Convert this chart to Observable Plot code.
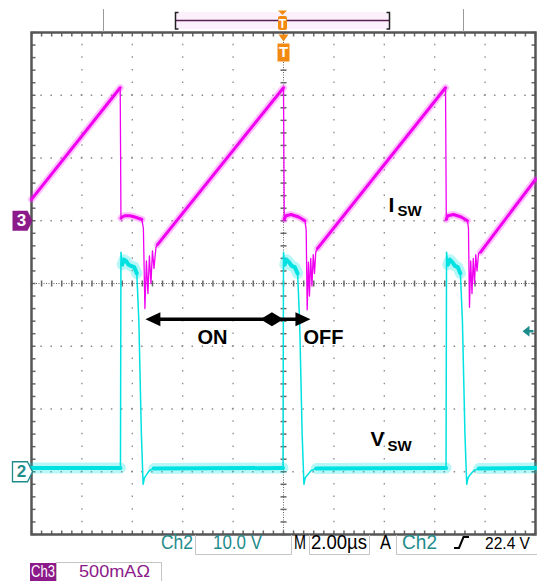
<!DOCTYPE html>
<html><head><meta charset="utf-8">
<script src="https://cdn.jsdelivr.net/npm/d3@7"></script>
<script src="https://cdn.jsdelivr.net/npm/@observablehq/plot@0.6"></script>
<style>
html,body{margin:0;padding:0;background:#fff;}
#wrap{position:relative;width:537px;height:581px;overflow:hidden;}
#wrap svg.overlay{position:absolute;left:0;top:0;pointer-events:none;}
.st{font-family:"Liberation Sans Narrow","Liberation Sans",Arial,sans-serif;font-size:20px;}
</style></head><body>
<div id="wrap"></div>
<script>
// ---------------- data ----------------
// Ch3: switch current I_SW (amps) vs time (µs, trigger at 0)
const ISW_TIME_US = [-10, -6.48, -6.45, -6.40, -6.30, -6.10, -5.90, -5.62, -5.56, -5.50, -5.44, -5.38, -5.32, -5.26, -5.20, -5.14, -5.06, -5.00,
  0.00, 0.03, 0.10, 0.30, 0.60, 0.85, 0.90, 0.94, 0.99, 1.03, 1.08, 1.13, 1.18, 1.23, 1.28, 1.35,
  6.43, 6.46, 6.52, 6.75, 7.05, 7.30, 7.34, 7.38, 7.43, 7.48, 7.53, 7.58, 7.63, 7.68, 7.74, 7.82, 10.00];
const ISW_AMPS = [0.17, 1.06, 0.02, 0.03, 0.04, 0.04, 0.03, 0.01, -0.06, -0.70, -0.32, -0.58, -0.28, -0.50, -0.24, -0.38, -0.21, -0.19,
  1.06, 0.01, 0.04, 0.05, 0.03, 0.00, -0.07, -0.71, -0.33, -0.60, -0.30, -0.52, -0.27, -0.42, -0.25, -0.22,
  1.06, 0.01, 0.04, 0.05, 0.03, 0.00, -0.06, -0.69, -0.32, -0.58, -0.30, -0.50, -0.27, -0.40, -0.26, -0.25, 0.33];
// Ch2: switch-node voltage V_SW (volts) vs time (µs)
const VSW_TIME_US = [-10, -6.47, -6.45, -6.40, -6.33, -6.25, -6.15, -6.05, -5.92, -5.82, -5.74, -5.64, -5.57, -5.52, -5.44, -5.32, -5.15,
  -0.02, 0.00, 0.05, 0.12, 0.22, 0.32, 0.45, 0.56, 0.64, 0.74, 0.81, 0.86, 0.95, 1.10, 1.30,
  6.45, 6.47, 6.52, 6.60, 6.70, 6.80, 6.92, 7.02, 7.10, 7.20, 7.27, 7.32, 7.40, 7.55, 7.75, 10.0];
const VSW_VOLTS = [0.6, 0.6, 35.0, 33.0, 33.8, 33.6, 33.0, 32.8, 32.6, 31.6, 24.0, 6.0, -2.0, -1.0, -0.5, 0.2, 0.5,
  0.6, 35.0, 33.0, 33.8, 33.4, 32.8, 32.6, 31.6, 24.0, 6.0, -2.0, -1.0, -0.5, 0.2, 0.5,
  0.6, 35.0, 33.0, 33.8, 33.4, 32.8, 32.6, 31.6, 24.0, 6.0, -2.0, -1.0, -0.5, 0.2, 0.5, 0.6];
// noisy (thick) stretches of each trace, µs
const ISW_NOISY_SPANS = [[-10, -6.48], [-6.45, -5.62], [-5.00, 0.00], [0.03, 0.85], [1.35, 6.43], [6.46, 7.30], [7.82, 10]];
const VSW_NOISY_SPANS = [[-10, -6.47], [-6.40, -5.82], [-5.15, -0.02], [0.05, 0.56], [1.30, 6.45], [6.52, 7.02], [7.75, 10]];

// scope settings
const TIME_PER_DIV_US = 2;
const CH3_A_PER_DIV = 0.5, CH3_POS_DIV = 1;
const CH2_V_PER_DIV = 10, CH2_POS_DIV = -3;
const TRIGGER_TIME_US = 0, TRIGGER_LEVEL_V = 22.4;
const CH_LABELS = ["3", "2"];

// annotations (data coordinates: µs, divisions)
const ON_START_US = -5.48, OFF_END_US = 1.07, SWITCH_MARK_US = -0.46, ARROW_LEVEL_DIV = -0.57;
const NOTE_TEXT = ["ON", "OFF"];
const NOTE_TIME_US = [-3.41, 0.79];
const NOTE_DIV = -0.87;
const TRACE_NAMES = [{main: "I", sub: "SW", t: 4.17, tSub: 4.52, div: 1.25, divSub: 1.15},
                     {main: "V", sub: "SW", t: 3.45, tSub: 4.13, div: -2.49, divSub: -2.60}];

// ---------------- derived tables ----------------
const ch3 = ISW_TIME_US.map((t, i) => ({t, div: ISW_AMPS[i] / CH3_A_PER_DIV + CH3_POS_DIV}));
const ch2 = VSW_TIME_US.map((t, i) => ({t, div: VSW_VOLTS[i] / CH2_V_PER_DIV + CH2_POS_DIV}));
function inSpans(rows, spans) {
  const out = [];
  spans.forEach((s, k) => rows.forEach(r => { if (r.t >= s[0] - 1e-9 && r.t <= s[1] + 1e-9) out.push({...r, k}); }));
  return out;
}
const ch3Noisy = inSpans(ch3, ISW_NOISY_SPANS);
const ch2Noisy = inSpans(ch2, VSW_NOISY_SPANS);

const half = 5 * TIME_PER_DIV_US;
const xMinor = d3.range(-25, 26).map(i => i * TIME_PER_DIV_US / 5);
const yMinor = d3.range(-20, 21).map(i => i / 5);
const xMajor = d3.range(-4, 5).filter(i => i !== 0).map(i => i * TIME_PER_DIV_US);
const yMajor = [-3, -2, -1, 1, 2, 3];

const seg = (x1, y1, x2, y2) => ({draw(c) { c.moveTo(x1, y1); c.lineTo(x2, y2); }});
const poly = (pts) => ({draw(c) { c.moveTo(pts[0][0], pts[0][1]); for (const p of pts.slice(1)) c.lineTo(p[0], p[1]); c.closePath(); }});
const badge = poly([[-19, -10], [-4, -10], [1, 0], [-4, 10], [-19, 10]]);
const trigIcon = {draw(c) {
  c.moveTo(-5, 2); c.lineTo(5, 2); c.lineTo(0, 9); c.closePath();
  c.moveTo(-6, 11); c.lineTo(6, 11); c.lineTo(6, 29); c.lineTo(-6, 29); c.closePath();
}};
const levelArrow = {draw(c) {
  c.moveTo(-13, 0); c.lineTo(-6, -5.5); c.lineTo(-6, 5.5); c.closePath();
  c.moveTo(-6, -1.2); c.lineTo(-2, -1.2); c.lineTo(-2, 1.2); c.lineTo(-6, 1.2); c.closePath();
}};
const headL = poly([[0, 0], [15, -7], [15, 7]]);
const headR = poly([[0, 0], [-15, -7], [-15, 7]]);
const diamond = poly([[-11.5, 0], [0, -7], [11.5, 0], [0, 7]]);

const MAG = "#f000f0", CYAN = "#00e2e2", TEAL = "#1f8c8c", PURPLE = "#8c1a8a", GRID = "#8a8a8a";
const LBL_FONT = "Liberation Sans, Arial, sans-serif";

const chart = Plot.plot({
  width: 537, height: 581,
  marginLeft: 31, marginRight: 2, marginTop: 32, marginBottom: 47,
  x: {domain: [-half, half], axis: null},
  y: {domain: [-4, 4], axis: null},
  marks: [
    // graticule
    Plot.ruleX(xMajor, {stroke: GRID, strokeWidth: 1.3, strokeDasharray: "1.5,11.05", strokeDashoffset: 0.75}),
    Plot.ruleY(yMajor, {stroke: GRID, strokeWidth: 1.3, strokeDasharray: "1.5,8.58", strokeDashoffset: 0.75}),
    Plot.ruleX([0], {stroke: "#666", strokeDasharray: "1,1.5"}),
    Plot.ruleY([0], {stroke: "#666", strokeDasharray: "1,1.5"}),
    Plot.dot(xMinor, {x: d => d, y: 0, symbol: seg(0, -3, 0, 3), stroke: "#666", fill: "none"}),
    Plot.dot(yMinor, {x: 0, y: d => d, symbol: seg(-3, 0, 3, 0), stroke: "#666", fill: "none"}),
    Plot.dot(xMinor, {x: d => d, y: 4, symbol: seg(0, 0, 0, 4), stroke: "#666", fill: "none"}),
    Plot.dot(xMinor, {x: d => d, y: -4, symbol: seg(0, 0, 0, -4), stroke: "#666", fill: "none"}),
    Plot.dot(yMinor, {x: -half, y: d => d, symbol: seg(0, 0, 4, 0), stroke: "#666", fill: "none"}),
    Plot.dot(yMinor, {x: half, y: d => d, symbol: seg(0, 0, -4, 0), stroke: "#666", fill: "none"}),
    Plot.frame({stroke: "#555", strokeWidth: 2.5}),
    // Ch2 trace (cyan)
    Plot.line(ch2Noisy, {x: "t", y: "div", z: "k", stroke: CYAN, strokeWidth: 11, strokeOpacity: 0.28}),
    Plot.line(ch2Noisy, {x: "t", y: "div", z: "k", stroke: CYAN, strokeWidth: 4}),
    Plot.line(ch2, {x: "t", y: "div", stroke: CYAN, strokeWidth: 1.5}),
    // Ch3 trace (magenta)
    Plot.line(ch3Noisy, {x: "t", y: "div", z: "k", stroke: "#ff30ff", strokeWidth: 7, strokeOpacity: 0.3}),
    Plot.line(ch3Noisy, {x: "t", y: "div", z: "k", stroke: MAG, strokeWidth: 3}),
    Plot.line(ch3, {x: "t", y: "div", stroke: MAG, strokeWidth: 1.3}),
    // ON / OFF arrow
    Plot.line([ON_START_US + 0.5, OFF_END_US - 0.5], {x: d => d, y: ARROW_LEVEL_DIV, stroke: "#000", strokeWidth: 3.5}),
    Plot.dot([ON_START_US], {x: d => d, y: ARROW_LEVEL_DIV, symbol: headL, fill: "#000", stroke: "none"}),
    Plot.dot([OFF_END_US], {x: d => d, y: ARROW_LEVEL_DIV, symbol: headR, fill: "#000", stroke: "none"}),
    Plot.dot([SWITCH_MARK_US], {x: d => d, y: ARROW_LEVEL_DIV, symbol: diamond, fill: "#000", stroke: "none"}),
    Plot.text(NOTE_TEXT, {x: (d, i) => NOTE_TIME_US[i], y: NOTE_DIV, text: d => d, textAnchor: "start", lineAnchor: "middle",
      fontSize: 20, fontWeight: "bold", fontFamily: LBL_FONT, fill: "#000"}),
    Plot.text(TRACE_NAMES, {x: "t", y: "div", text: "main", textAnchor: "start", lineAnchor: "middle",
      fontSize: 21, fontWeight: "bold", fontFamily: LBL_FONT, fill: "#000"}),
    Plot.text(TRACE_NAMES, {x: "tSub", y: "divSub", text: "sub", textAnchor: "start", lineAnchor: "middle",
      fontSize: 15, fontWeight: "bold", fontFamily: LBL_FONT, fill: "#000"}),
    // channel ground markers
    Plot.dot([CH3_POS_DIV], {x: -half, y: d => d, symbol: badge, fill: PURPLE, stroke: "none"}),
    Plot.dot([CH2_POS_DIV], {x: -half, y: d => d, symbol: badge, fill: "#fff", stroke: TEAL, strokeWidth: 1.3}),
    Plot.text([CH3_POS_DIV, CH2_POS_DIV], {x: -half, y: d => d, dx: -10, text: (d, i) => CH_LABELS[i], fill: (d, i) => i ? TEAL : "#fff",
      fontSize: 17, fontWeight: "bold", fontFamily: LBL_FONT, lineAnchor: "middle"}),
    // trigger level & position
    Plot.dot([TRIGGER_LEVEL_V / CH2_V_PER_DIV + CH2_POS_DIV], {x: half, y: d => d, symbol: levelArrow, fill: TEAL, stroke: "none"}),
    Plot.dot([TRIGGER_TIME_US], {x: d => d, y: 4, symbol: trigIcon, fill: "#f28a12", stroke: "none"}),
    Plot.text([TRIGGER_TIME_US], {x: d => d, y: 4, dy: 20, text: () => "T", fill: "#fff", fontWeight: "bold", fontSize: 15, fontFamily: LBL_FONT, lineAnchor: "middle"})
  ]
});
const wrap = document.getElementById("wrap");
wrap.appendChild(chart);

const fit = 'lengthAdjust="spacingAndGlyphs"';
wrap.insertAdjacentHTML("beforeend", `
<svg class="overlay" width="537" height="581" xmlns="http://www.w3.org/2000/svg">
  <line x1="103.5" y1="9" x2="103.5" y2="32" stroke="#9a9a9a"/>
  <line x1="463.5" y1="9" x2="463.5" y2="32" stroke="#9a9a9a"/>
  <rect x="175" y="12" width="215" height="17" fill="#fcf0fc"/>
  <line x1="176" y1="20.5" x2="389" y2="20.5" stroke="#5a2050" stroke-width="1.5"/>
  <path d="M178.5,12.5 H175.5 V29 H178.5" stroke="#222" fill="none" stroke-width="1.5"/>
  <path d="M386.5,12.5 H389.5 V29 H386.5" stroke="#222" fill="none" stroke-width="1.5"/>
  <path d="M278,10.5 H287 L282.5,15 Z" fill="#f28a12"/>
  <rect x="278" y="16" width="9" height="14" rx="2" fill="#f28a12"/>
  <text x="282.5" y="27.5" font-size="12" font-weight="bold" fill="#fff" text-anchor="middle" font-family="Liberation Sans, Arial, sans-serif">T</text>

  <path d="M195.5,535 V554.5 H291.5 V535" stroke="#c4c4c4" fill="none"/>
  <path d="M309.5,535 V554.5 H369.5 V535" stroke="#c4c4c4" fill="none"/>
  <path d="M396.5,535 V554.5 H537" stroke="#c4c4c4" fill="none"/>
  <text class="st" x="161" y="549" fill="${TEAL}" textLength="32" ${fit}>Ch2</text>
  <text class="st" x="213" y="549" fill="${TEAL}" textLength="49" ${fit}>10.0 V</text>
  <text class="st" x="294" y="549" fill="#000" textLength="12" ${fit}>M</text>
  <text class="st" x="311" y="549" fill="#000" textLength="56" ${fit}>2.00µs</text>
  <text class="st" x="380" y="549" fill="#000" textLength="11" ${fit}>A</text>
  <text class="st" x="402" y="549" fill="${TEAL}" textLength="35" ${fit}>Ch2</text>
  <path d="M454,548 H459 L463.5,537 H469" stroke="#000" stroke-width="2" fill="none"/>
  <text class="st" x="485" y="549" fill="#000" style="font-size:16.5px" textLength="45" ${fit}>22.4 V</text>

  <rect x="30" y="563" width="26" height="18" fill="${PURPLE}"/>
  <text class="st" x="31" y="577" fill="#fff" style="font-size:16px" textLength="24" ${fit}>Ch3</text>
  <path d="M56.5,581 V562.5 H161.5 V581" stroke="#c4c4c4" fill="none"/>
  <text class="st" x="79" y="577" fill="${PURPLE}" style="font-size:17px" textLength="71" ${fit}>500mAΩ</text>
</svg>`);
</script>
</body></html>
